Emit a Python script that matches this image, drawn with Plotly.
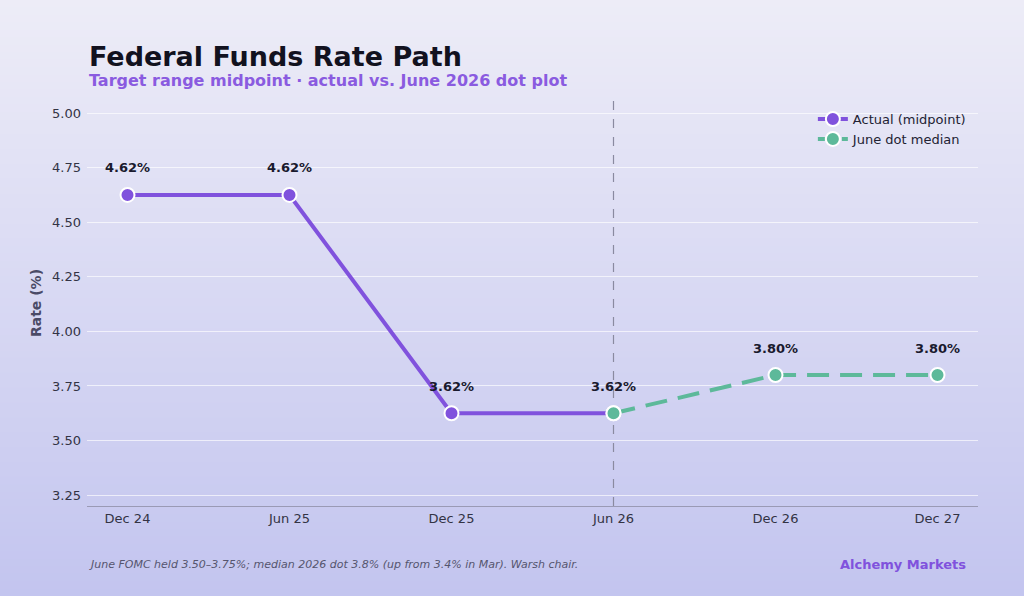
import plotly.graph_objects as go

periods = ["Dec 24", "Jun 25", "Dec 25", "Jun 26", "Dec 26", "Dec 27"]
actual_periods = ["Dec 24", "Jun 25", "Dec 25", "Jun 26"]
actual_values = [4.625, 4.625, 3.625, 3.625]
dot_periods = ["Jun 26", "Dec 26", "Dec 27"]
dot_values = [3.625, 3.80, 3.80]
label_periods = ["Dec 24", "Jun 25", "Dec 25", "Jun 26", "Dec 26", "Dec 27"]
label_values = [4.625, 4.625, 3.625, 3.625, 3.80, 3.80]
y_ticks = [3.25, 3.50, 3.75, 4.00, 4.25, 4.50, 4.75, 5.00]

PURPLE = "#8052DD"
GREEN = "#5DB99A"
FONT = "DejaVu Sans"

fig = go.Figure()

fig.add_trace(go.Scatter(
    x=dot_periods, y=dot_values, mode="lines",
    showlegend=False, hoverinfo="skip",
    line=dict(color=GREEN, width=4, dash="22px,11px"),
))
fig.add_trace(go.Scatter(
    x=actual_periods, y=actual_values, mode="lines+markers",
    name="Actual (midpoint)",
    line=dict(color=PURPLE, width=4),
    marker=dict(size=14, color=PURPLE, line=dict(color="white", width=2)),
))
fig.add_trace(go.Scatter(
    x=dot_periods, y=dot_values, mode="markers",
    name="June dot median", showlegend=False,
    marker=dict(size=14, color=GREEN, line=dict(color="white", width=2)),
))
fig.add_trace(go.Scatter(
    x=[None], y=[None], mode="lines+markers", name="June dot median",
    line=dict(color=GREEN, width=4, dash="7px,5px"),
    marker=dict(size=14, color=GREEN, line=dict(color="white", width=2)),
    showlegend=True, hoverinfo="skip",
))

# background gradient
shapes = []
n = 80
top = (237, 236, 247)
bot = (195, 197, 239)
plot_h = 406
for i in range(n):
    t = i / (n - 1)
    c = tuple(round(top[k] + (bot[k] - top[k]) * t) for k in range(3))
    px_top = i * 596 / n
    px_bot = (i + 1) * 596 / n + 1
    shapes.append(dict(type="rect", xref="paper", yref="paper",
                       x0=-87 / 891, x1=(1024 - 87) / 891,
                       y0=(506 - px_bot) / plot_h, y1=(506 - px_top) / plot_h,
                       layer="below", line=dict(width=0),
                       fillcolor=f"rgb{c}"))

shapes.append(dict(type="line", xref="x", yref="paper", x0="Jun 26", x1="Jun 26",
                   y0=0, y1=1, line=dict(color="#8a8aa0", width=1.2, dash="dash"),
                   layer="below"))
fig.update_layout(shapes=shapes)

annotations = [
    dict(x=p, y=v, xref="x", yref="y", text=f"<b>{v:.2f}%</b>", showarrow=False,
         yshift=27, xanchor="center", yanchor="middle",
         font=dict(family=FONT, size=13, color="#1a1a2e"))
    for p, v in zip(label_periods, label_values)
]
annotations += [
    dict(text="<b>Federal Funds Rate Path</b>", xref="paper", yref="paper",
         x=0, y=(506 - 57) / 406, xanchor="left", yanchor="middle",
         showarrow=False, font=dict(size=27, color="#12121f", family=FONT)),
    dict(text="<b>Target range midpoint · actual vs. June 2026 dot plot</b>",
         xref="paper", yref="paper", x=0, y=(506 - 81) / 406,
         xanchor="left", yanchor="middle", showarrow=False,
         font=dict(size=16, color="#8A5BE0", family=FONT)),
    dict(text="<i>June FOMC held 3.50–3.75%; median 2026 dot 3.8% (up from 3.4% in Mar). Warsh chair.</i>",
         xref="paper", yref="paper", x=0, y=(506 - 564) / 406,
         xanchor="left", yanchor="middle", showarrow=False,
         font=dict(size=11, color="#55556e", family=FONT)),
    dict(text="<b>Alchemy Markets</b>", xref="paper", yref="paper",
         x=(968 - 87) / 891, y=(506 - 564) / 406, xanchor="right", yanchor="middle",
         showarrow=False, font=dict(size=13, color="#8052DD", family=FONT)),
]

fig.update_layout(
    width=1024, height=596,
    margin=dict(l=87, r=46, t=100, b=90),
    paper_bgcolor="#D9D9F3",
    plot_bgcolor="rgba(0,0,0,0)",
    font=dict(family=FONT, color="#333344"),
    showlegend=True,
    legend=dict(x=0.992, y=0.99, xanchor="right", yanchor="top",
                bgcolor="rgba(0,0,0,0)", font=dict(size=13, color="#222233"),
                tracegroupgap=0),
    xaxis=dict(type="category", categoryorder="array", categoryarray=periods,
               range=[-0.25, 5.25], showgrid=False, showline=True,
               linecolor="#9a9ab5", linewidth=1, ticks="",
               tickfont=dict(size=13, color="#333344"), zeroline=False),
    yaxis=dict(range=[3.2, 5.06], tickvals=y_ticks,
               ticktext=[f"{v:.2f}" for v in y_ticks],
               showgrid=True, gridcolor="rgba(255,255,255,0.65)", gridwidth=1,
               zeroline=False, showline=False, ticklabelstandoff=5,
               tickfont=dict(size=13, color="#333344"),
               title=dict(text="Rate (%)", font=dict(size=14, color="#4a4a66", weight="bold"),
                          standoff=7)),
    annotations=annotations,
)

fig.write_html("out.html")
